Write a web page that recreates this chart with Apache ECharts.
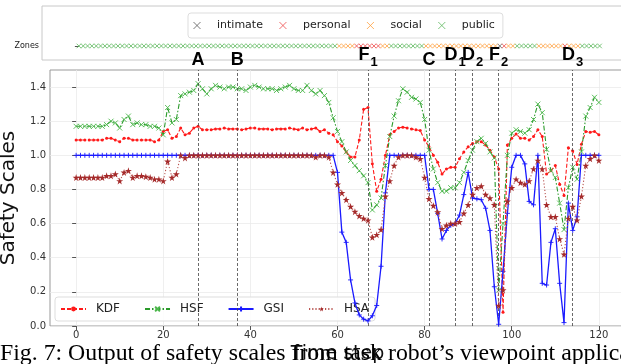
<!DOCTYPE html>
<html><head><meta charset="utf-8">
<script src="https://cdn.jsdelivr.net/npm/echarts@6/dist/echarts.min.js"></script>
<style>html,body{margin:0;padding:0;background:#fff}#c{width:621px;height:364px}</style>
</head><body><div id="c"></div>
<script>
// ---------- data ----------
const xTicks = [0, 20, 40, 60, 80, 100, 120];
const yTicks = [0, 0.2, 0.4, 0.6, 0.8, 1.0, 1.2, 1.4];
const seriesNames = ['KDF', 'HSF', 'GSI', 'HSA'];

const kdf = [
  1.09,1.09,1.09,1.09,1.09,1.09,1.09,1.10,1.10,1.09,
  1.08,1.10,1.10,1.09,1.09,1.09,1.09,1.09,1.08,1.09,
  1.14,1.15,1.10,1.11,1.16,1.12,1.13,1.16,1.17,1.15,
  1.15,1.15,1.155,1.155,1.16,1.155,1.155,1.155,1.15,1.155,
  1.16,1.16,1.155,1.155,1.155,1.15,1.155,1.155,1.155,1.16,
  1.155,1.15,1.16,1.15,1.155,1.16,1.14,1.15,1.13,1.12,
  1.08,1.055,1.02,0.99,0.99,1.09,1.27,1.28,0.95,0.79,
  0.86,1.00,1.12,1.14,1.16,1.165,1.16,1.155,1.15,1.145,
  1.09,1.05,1.00,0.96,0.89,0.92,0.93,0.93,0.98,1.02,
  1.05,1.07,1.08,1.08,1.06,1.03,0.99,0.92,0.08,1.06,
  1.10,1.125,1.10,1.10,1.09,1.11,1.15,1.11,0.89,0.91,
  0.94,0.83,0.765,1.045,1.025,0.947,1.065,1.14,1.135,1.14,
  1.12
];
const hsf = [
  1.17,1.17,1.17,1.17,1.17,1.17,1.17,1.18,1.20,1.19,
  1.16,1.21,1.23,1.18,1.19,1.18,1.18,1.17,1.17,1.16,
  1.12,1.28,1.19,1.21,1.35,1.36,1.37,1.38,1.42,1.39,
  1.36,1.39,1.41,1.40,1.39,1.40,1.40,1.39,1.39,1.38,
  1.40,1.41,1.40,1.39,1.39,1.39,1.38,1.39,1.40,1.41,
  1.39,1.38,1.38,1.41,1.38,1.36,1.38,1.35,1.31,1.22,
  1.14,1.08,1.02,0.97,0.94,0.91,0.88,0.84,0.68,0.71,
  0.75,0.94,1.11,1.23,1.32,1.39,1.37,1.34,1.33,1.31,
  1.21,1.03,0.92,0.84,0.79,0.79,0.81,0.81,0.84,0.90,
  0.97,1.03,1.08,1.10,1.07,1.02,0.985,0.21,0.60,1.00,
  1.13,1.15,1.14,1.13,1.15,1.21,1.30,1.25,1.035,0.91,
  0.87,0.72,0.565,0.81,0.93,0.86,1.02,1.23,1.28,1.34,
  1.31
];
const gsi = [
  1,1,1,1,1,1,1,1,1,1,
  1,1,1,1,1,1,1,1,1,1,
  1,1,1,1,1,1,1,1,1,1,
  1,1,1,1,1,1,1,1,1,1,
  1,1,1,1,1,1,1,1,1,1,
  1,1,1,1,1,1,1,1,1,1,
  0.90,0.55,0.49,0.27,0.135,0.065,0.04,0.03,0.06,0.12,
  0.35,0.78,1,1,1,1,1,1,1,1,
  1,0.80,0.80,0.66,0.51,0.56,0.59,0.60,0.65,0.77,
  0.90,0.75,0.745,0.74,0.69,0.56,0.23,0.01,0.32,0.66,
  0.93,1,1,0.95,0.73,0.71,1,0.25,0.24,0.49,
  0.57,0.25,0.02,0.72,0.56,0.64,1,1,1,1,
  1
];
const hsa = [
  0.87,0.87,0.87,0.87,0.87,0.87,0.87,0.88,0.88,0.89,
  0.85,0.90,0.91,0.87,0.88,0.88,0.875,0.87,0.86,0.86,
  0.85,0.965,0.87,0.89,1.0,0.985,1.0,1.0,1.0,1.0,
  1,1,1,1,1,1,1,1,1,1,
  1,1,1,1,1,1,1,1,1,1,
  1.0,1.0,1.0,1.0,1.0,0.99,1.0,1.0,0.99,0.90,
  0.83,0.78,0.74,0.70,0.67,0.645,0.63,0.62,0.52,0.535,
  0.565,0.76,0.85,0.94,0.99,1.0,1.0,1.0,0.99,0.98,
  0.87,0.745,0.705,0.667,0.57,0.59,0.60,0.60,0.61,0.66,
  0.71,0.77,0.81,0.82,0.77,0.75,0.71,0.12,0.21,0.73,
  0.81,0.86,0.84,0.83,0.85,0.92,0.97,0.92,0.71,0.64,
  0.64,0.51,0.42,0.63,0.70,0.62,0.76,0.94,0.98,1.0,
  0.97
];

// zone per time step: I = intimate, R = personal, S = social, P = public
const zoneNames = ['intimate', 'personal', 'social', 'public'];
const zoneCodeKeys = ['I', 'R', 'S', 'P'];
const zoneCodes = [
  'PPPPPPPPPP','PPPPPPPPPP','PPPPPPPPPP','PPPPPPPPPP','PPPPPPPPPP','PPPPPPPPPP',
  'SSSSRRRRRR','SSPPPPPPPP','SSSSSSSSSS','SSSSSSSIRS','SPPPPPSSSS','SSRSSSPPPP','P'
].join('').split('');

const eventNames = ['A', 'B', 'F1', 'C', 'D1', 'D2', 'F2', 'D3'];
const eventSteps = [28, 37, 67, 81, 87, 91, 97, 114];

// ---------- styles ----------
const zoneColors = ['#5a5a5a', '#ee4b4b', '#ffa040', '#5cb85c'];
const X_PATH = 'path://M0,0L10,10M10,0L0,10';
const PLUS_PATH = 'path://M5,0L5,10M0,5L10,5';
const STAR_PATH = 'path://M50,0L61,35L98,35L68,57L79,91L50,70L21,91L32,57L2,35L39,35Z';

const toPairs = arr => arr.map((v, i) => [i, v]);

const chart = echarts.init(document.getElementById('c'), null, {renderer: 'canvas', width: 621, height: 364});

const zoneSeries = zoneNames.map((name, k) => ({
  name: name, type: 'scatter', xAxisIndex: 0, yAxisIndex: 0,
  symbol: X_PATH, symbolSize: 4.5, silent: true,
  itemStyle: {color: zoneColors[k], borderColor: zoneColors[k], borderWidth: 1},
  data: zoneCodes.map((c, i) => c === zoneCodeKeys[k] ? [i, 0] : null).filter(d => d)
}));

const lineCommon = {type: 'line', xAxisIndex: 1, yAxisIndex: 1, silent: true, showAllSymbol: true, emphasis: {disabled: true}};

const option = {
  animation: false,
  textStyle: {fontFamily: 'DejaVu Sans'},
  grid: [
    {left: 42, top: 6, width: 601, height: 54, show: true, borderColor: '#c8c8c8', borderWidth: 1,
      backgroundColor: 'transparent', containLabel: false, outerBoundsMode: 'none'},
    {left: 50, top: 70, width: 575, height: 256, show: true, borderColor: '#999', borderWidth: 1,
      backgroundColor: 'transparent', containLabel: false, outerBoundsMode: 'none'}
  ],
  xAxis: [
    {gridIndex: 0, type: 'value', min: -8.5, max: 130, axisLine: {show: false}, axisTick: {show: false}, axisLabel: {show: false}, splitLine: {show: false}},
    {gridIndex: 1, type: 'value', min: -6, max: 126,
      axisLine: {show: false},
      axisTick: {show: true, length: 4, customValues: xTicks, lineStyle: {color: '#555'}},
      axisLabel: {customValues: xTicks, fontSize: 10, color: '#333', margin: 4},
      splitLine: {show: true, lineStyle: {color: '#ebebeb', width: 0.8}},
      name: 'Time step', nameLocation: 'middle', nameGap: 12,
      nameTextStyle: {fontSize: 19, color: '#111'}}
  ],
  yAxis: [
    {gridIndex: 0, type: 'value', min: -0.26, max: 0.74,
      axisLine: {show: false},
      axisTick: {show: true, length: 4, customValues: [0], lineStyle: {color: '#555'}},
      axisLabel: {customValues: [0], formatter: () => 'Zones', fontSize: 8, color: '#222', margin: 3},
      splitLine: {show: false}},
    {gridIndex: 1, type: 'value', min: 0, max: 1.5,
      axisLine: {show: false},
      axisTick: {show: true, length: 4, customValues: yTicks, lineStyle: {color: '#555'}},
      axisLabel: {customValues: yTicks, formatter: v => v.toFixed(1), fontSize: 10, color: '#333', margin: 4},
      splitLine: {show: true, lineStyle: {color: '#ebebeb', width: 0.8}},
      name: 'Safety Scales', nameLocation: 'middle', nameGap: 23,
      nameTextStyle: {fontSize: 20, color: '#111'}}
  ],
  legend: [
    {data: zoneNames, left: 188, top: 13, orient: 'horizontal', padding: [7, 8, 7, 5],
      itemWidth: 20, itemHeight: 7, itemGap: 16,
      backgroundColor: '#fff', borderColor: '#ddd', borderWidth: 1, borderRadius: 3,
      textStyle: {fontSize: 11, fontFamily: 'DejaVu Sans', color: '#222', padding: [0, 0, 0, 5]},
      itemStyle: {borderWidth: 1}, selectedMode: false},
    {data: seriesNames, left: 55, top: 297, orient: 'horizontal', padding: [6, 6, 6, 5],
      itemWidth: 25, itemHeight: 6, itemGap: 24,
      backgroundColor: 'rgba(255,255,255,0.85)', borderColor: '#ddd', borderWidth: 1, borderRadius: 3,
      textStyle: {fontSize: 12, fontFamily: 'DejaVu Sans', color: '#222', padding: [0, 0, 0, 5]}, selectedMode: false}
  ],
  series: [
    ...zoneSeries,
    Object.assign({}, lineCommon, {
      name: 'KDF', data: toPairs(kdf), z: 3,
      symbol: 'circle', symbolSize: 3,
      lineStyle: {color: '#ff1a1a', width: 1.1, type: [4, 2]},
      itemStyle: {color: '#ff1a1a'},
      markLine: {
        silent: true, symbol: ['none', 'none'], animation: false,
        lineStyle: {color: '#444', type: [3, 2], width: 0.8},
        emphasis: {disabled: true},
        label: {
          show: true, position: 'end', distance: 1, color: '#000',
          formatter: p => p.name.length > 1 ? '{m|' + p.name[0] + '}{s|' + p.name.slice(1) + '}' : '{m|' + p.name + '}',
          rich: {
            m: {fontSize: 18, fontWeight: 'bold', fontFamily: 'Liberation Sans', color: '#000'},
            s: {fontSize: 13, fontWeight: 'bold', fontFamily: 'Liberation Sans', color: '#000', padding: [14, 0, 0, 1]}
          }
        },
        data: eventSteps.map((s, k) => ({xAxis: s, name: eventNames[k]}))
      }
    }),
    Object.assign({}, lineCommon, {
      name: 'HSF', data: toPairs(hsf), z: 4,
      symbol: X_PATH, symbolSize: 5,
      lineStyle: {color: '#2a9a2a', width: 1.1, type: [5, 2, 1.5, 2]},
      itemStyle: {color: '#4cb84c', borderColor: '#4cb84c', borderWidth: 0.9}
    }),
    Object.assign({}, lineCommon, {
      name: 'GSI', data: toPairs(gsi), z: 5,
      symbol: PLUS_PATH, symbolSize: 5,
      lineStyle: {color: '#1a1aff', width: 1.3},
      itemStyle: {color: '#1a1aff', borderColor: '#1a1aff', borderWidth: 0.9}
    }),
    Object.assign({}, lineCommon, {
      name: 'HSA', data: toPairs(hsa), z: 6,
      symbol: STAR_PATH, symbolSize: 7,
      lineStyle: {color: '#b85450', width: 1.1, type: [1.2, 2]},
      itemStyle: {color: '#a52a2a', borderColor: '#a52a2a', borderWidth: 0}
    })
  ],
  graphic: [
    {type: 'text', left: 0, top: 342, silent: true, z: 100,
      style: {text: 'Fig. 7: Output of safety scales from task robot\u2019s viewpoint application',
        font: '23.8px "Liberation Serif"', fill: '#000'}}
  ]
};
chart.setOption(option);
</script>
</body></html>
